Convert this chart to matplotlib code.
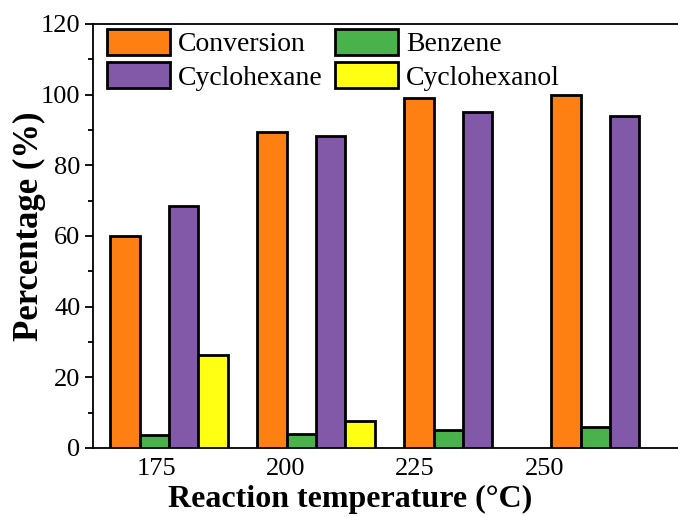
import matplotlib
matplotlib.use("Agg")
import matplotlib.pyplot as plt
import numpy as np
from matplotlib.ticker import MultipleLocator

temperatures = ["175", "200", "225", "250"]
series_names = ["Conversion", "Benzene", "Cyclohexane", "Cyclohexanol"]
conversion = [60.0, 89.3, 99.0, 100.0]
benzene = [3.8, 4.0, 5.1, 6.0]
cyclohexane = [68.5, 88.4, 95.0, 94.0]
cyclohexanol = [26.2, 7.5, 0.0, 0.0]
colors = ["#FF8012", "#4AB24A", "#8258A8", "#FFFF14"]

plt.rcParams["font.family"] = ["Liberation Serif", "DejaVu Serif"]

fig = plt.figure(figsize=(6.78, 5.17), dpi=100)
ax = fig.add_axes([0.1372, 0.1335, 0.8828, 0.8201])

x = np.arange(len(temperatures))
w = 0.2
values = [conversion, benzene, cyclohexane, cyclohexanol]
offsets = [-1.5 * w, -0.5 * w, 0.5 * w, 1.5 * w]
handles = {}
for vals, off, col, name in zip(values, offsets, colors, series_names):
    v = np.array(vals)
    mask = v > 0
    handles[name] = ax.bar(x[mask] + off, v[mask], width=w, color=col,
                           edgecolor="black", linewidth=2.0, label=name, zorder=3)

ax.set_xlim(-0.517, 3.555)
ax.set_ylim(0, 120)

# tick labels in the reference are spaced slightly differently from the bar groups
tick_pos = -0.088 + 0.881 * x
ax.set_xticks(tick_pos)
ax.set_xticklabels(temperatures)
ax.tick_params(axis="x", length=0, pad=7, labelsize=19)

ax.yaxis.set_major_locator(MultipleLocator(20))
ax.yaxis.set_minor_locator(MultipleLocator(10))
ax.tick_params(axis="y", which="major", direction="out", length=6, width=1.3,
               pad=3, labelsize=19)
ax.tick_params(axis="y", which="minor", direction="out", length=3.5, width=1.3)

for s in ["left", "bottom", "top"]:
    ax.spines[s].set_linewidth(1.3)
ax.spines["right"].set_visible(False)

ax.set_xlabel("Reaction temperature (°C)", fontsize=23, fontweight="bold")
ax.xaxis.set_label_coords(0.429, -0.088)
ax.set_ylabel("Percentage (%)", fontsize=25, fontweight="bold")
ax.yaxis.set_label_coords(-0.078, 0.524)

order = ["Conversion", "Cyclohexane", "Benzene", "Cyclohexanol"]
ax.legend([handles[n] for n in order], order,
          loc="upper left", bbox_to_anchor=(0.0234, 0.988), ncol=2,
          frameon=False, fontsize=20, borderpad=0, borderaxespad=0,
          handlelength=2.27, handleheight=1.05, labelspacing=0.18,
          handletextpad=0.29, columnspacing=0.43)

fig.savefig("out.png", dpi=100)
